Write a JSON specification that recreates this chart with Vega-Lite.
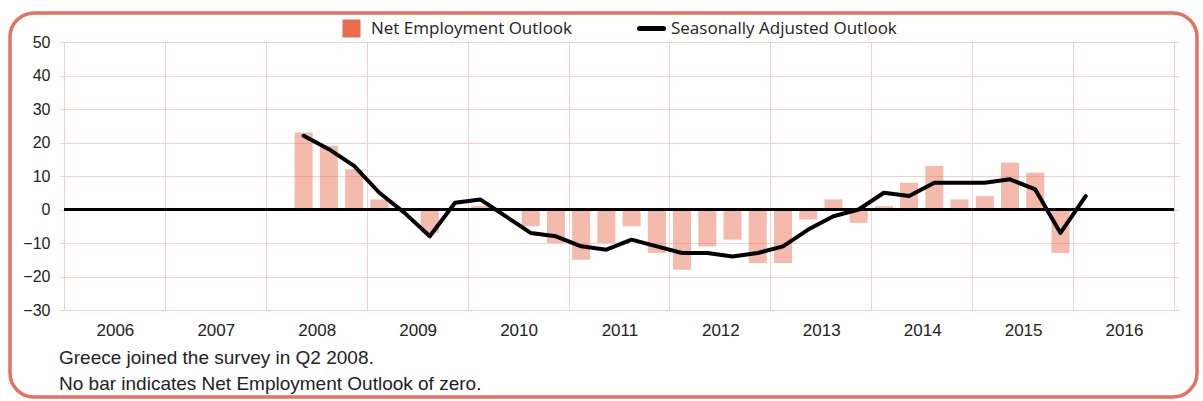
{
  "$schema": "https://vega.github.io/schema/vega-lite/v6.json",
  "width": 1187,
  "height": 384,
  "autosize": {"type": "none"},
  "padding": {"left": 10, "top": 13, "right": 6, "bottom": 4},
  "background": "white",
  "config": {
    "view": {"stroke": "#E8705F", "strokeWidth": 3.5, "cornerRadius": 24},
    "font": "Liberation Sans",
    "axis": {
      "domain": false,
      "ticks": false,
      "tickSize": 0,
      "gridColor": "#F2D0CC",
      "gridWidth": 1,
      "gridOpacity": 1,
      "labelColor": "#222222",
      "labelFont": "Liberation Sans"
    }
  },
  "title": {
    "text": ["Greece joined the survey in Q2 2008.", "No bar indicates Net Employment Outlook of zero."],
    "orient": "bottom",
    "anchor": "start",
    "frame": "group",
    "dx": 49,
    "offset": -48,
    "fontSize": 19,
    "fontWeight": "normal",
    "font": "Liberation Sans",
    "color": "#222222",
    "lineHeight": 26
  },
  "data": {
    "values": [
      {"quarter": "2008 Q2", "t": 2008.375, "net": 23, "sa": 22},
      {"quarter": "2008 Q3", "t": 2008.625, "net": 19, "sa": 18},
      {"quarter": "2008 Q4", "t": 2008.875, "net": 12, "sa": 13},
      {"quarter": "2009 Q1", "t": 2009.125, "net": 3, "sa": 5},
      {"quarter": "2009 Q2", "t": 2009.375, "net": 0, "sa": -1},
      {"quarter": "2009 Q3", "t": 2009.625, "net": -7, "sa": -8},
      {"quarter": "2009 Q4", "t": 2009.875, "net": 0, "sa": 2},
      {"quarter": "2010 Q1", "t": 2010.125, "net": 1, "sa": 3},
      {"quarter": "2010 Q2", "t": 2010.375, "net": 0, "sa": -2},
      {"quarter": "2010 Q3", "t": 2010.625, "net": -5, "sa": -7},
      {"quarter": "2010 Q4", "t": 2010.875, "net": -10, "sa": -8},
      {"quarter": "2011 Q1", "t": 2011.125, "net": -15, "sa": -11},
      {"quarter": "2011 Q2", "t": 2011.375, "net": -10, "sa": -12},
      {"quarter": "2011 Q3", "t": 2011.625, "net": -5, "sa": -9},
      {"quarter": "2011 Q4", "t": 2011.875, "net": -13, "sa": -11},
      {"quarter": "2012 Q1", "t": 2012.125, "net": -18, "sa": -13},
      {"quarter": "2012 Q2", "t": 2012.375, "net": -11, "sa": -13},
      {"quarter": "2012 Q3", "t": 2012.625, "net": -9, "sa": -14},
      {"quarter": "2012 Q4", "t": 2012.875, "net": -16, "sa": -13},
      {"quarter": "2013 Q1", "t": 2013.125, "net": -16, "sa": -11},
      {"quarter": "2013 Q2", "t": 2013.375, "net": -3, "sa": -6},
      {"quarter": "2013 Q3", "t": 2013.625, "net": 3, "sa": -2},
      {"quarter": "2013 Q4", "t": 2013.875, "net": -4, "sa": 0},
      {"quarter": "2014 Q1", "t": 2014.125, "net": 1, "sa": 5},
      {"quarter": "2014 Q2", "t": 2014.375, "net": 8, "sa": 4},
      {"quarter": "2014 Q3", "t": 2014.625, "net": 13, "sa": 8},
      {"quarter": "2014 Q4", "t": 2014.875, "net": 3, "sa": 8},
      {"quarter": "2015 Q1", "t": 2015.125, "net": 4, "sa": 8},
      {"quarter": "2015 Q2", "t": 2015.375, "net": 14, "sa": 9},
      {"quarter": "2015 Q3", "t": 2015.625, "net": 11, "sa": 6},
      {"quarter": "2015 Q4", "t": 2015.875, "net": -13, "sa": -7},
      {"quarter": "2016 Q1", "t": 2016.125, "net": 0, "sa": 4}
    ]
  },
  "layer": [
    {
      "mark": {"type": "bar", "width": 18, "fillOpacity": 0.47},
      "encoding": {
        "x": {
          "field": "t",
          "type": "quantitative",
          "scale": {"domain": [2006, 2017], "range": [49, 1169], "nice": false, "zero": false},
          "axis": {
            "title": null,
            "orient": "top",
            "values": [2006, 2007, 2008, 2009, 2010, 2011, 2012, 2013, 2014, 2015, 2016, 2017],
            "format": "d",
            "labelExpr": "datum.value >= 2017 ? '' : datum.label",
            "labelOffset": 50.9,
            "labelFontSize": 17,
            "labelPadding": 0,
            "labelBaseline": "alphabetic",
            "labelFlush": false,
            "labelOverlap": false,
            "labelBound": false,
            "offset": -322,
            "grid": true
          }
        },
        "y": {
          "field": "net",
          "type": "quantitative",
          "scale": {"domain": [-30, 50], "range": [297, 29], "nice": false, "zero": false},
          "axis": {
            "title": null,
            "values": [-30, -20, -10, 0, 10, 20, 30, 40, 50],
            "labelFontSize": 16,
            "labelPadding": 9,
            "offset": -49,
            "grid": true
          }
        },
        "color": {
          "datum": "Net Employment Outlook",
          "scale": {
            "domain": ["Net Employment Outlook", "Seasonally Adjusted Outlook"],
            "range": ["#E86C4E", "#000000"]
          },
          "legend": {
            "title": null,
            "orient": "none",
            "legendX": 324,
            "legendY": -2,
            "direction": "horizontal",
            "symbolSize": 900,
            "labelFont": "Open Sans",
            "labelFontSize": 17,
            "labelColor": "#222222",
            "labelLimit": 400,
            "labelOffset": 2,
            "columnPadding": 56,
            "padding": 0,
            "encode": {
              "symbols": {
                "update": {
                  "shape": {"signal": "datum.value === 'Net Employment Outlook' ? 'M-0.433,-0.433H0.433V0.433H-0.433Z' : 'M0,-0.433M0,0.433M-0.8,0H0.8'"},
                  "size": {"value": 900},
                  "fill": {"signal": "datum.value === 'Net Employment Outlook' ? '#E86C4E' : 'transparent'"},
                  "stroke": {"signal": "datum.value === 'Net Employment Outlook' ? '#E86C4E' : '#000000'"},
                  "strokeWidth": {"value": 5},
                  "strokeCap": {"value": "round"},
                  "opacity": {"value": 1},
                  "fillOpacity": {"value": 1},
                  "strokeOpacity": {"value": 1}
                }
              }
            }
          }
        }
      }
    },
    {
      "mark": {"type": "rule", "color": "#000000", "strokeWidth": 2},
      "encoding": {
        "y": {"datum": 0},
        "x": {"datum": 2006},
        "x2": {"datum": 2017}
      }
    },
    {
      "mark": {"type": "line", "strokeWidth": 4, "strokeJoin": "round", "strokeCap": "round"},
      "encoding": {
        "x": {"field": "t", "type": "quantitative"},
        "y": {"field": "sa", "type": "quantitative"},
        "color": {"datum": "Seasonally Adjusted Outlook"}
      }
    }
  ]
}
